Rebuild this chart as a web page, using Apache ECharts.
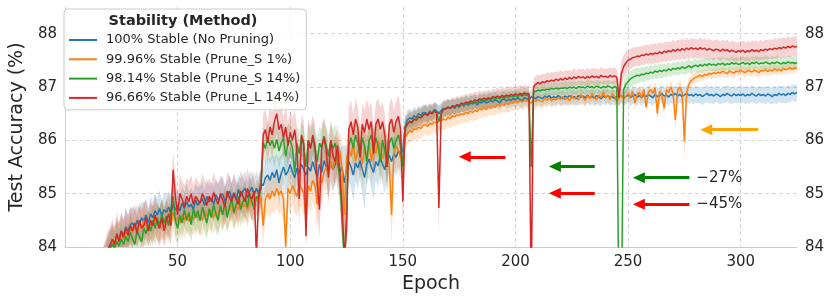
<!DOCTYPE html>
<html><head><meta charset="utf-8">
<script src="https://cdn.jsdelivr.net/npm/echarts@6/dist/echarts.min.js"></script>
<style>html,body{margin:0;padding:0;background:#fff}#c{width:831px;height:300px}</style>
</head><body><div id="c"></div>
<script>
const startEpoch = 15;
const seriesNames = ['100% Stable (No Pruning)', '99.96% Stable (Prune_S 1%)', '98.14% Stable (Prune_S 14%)', '96.66% Stable (Prune_L 14%)'];
const seriesColors = ['#1f77b4', '#ff7f0e', '#2ca02c', '#d62728'];
const bandFills = ['rgba(31,119,180,0.2)', 'rgba(255,127,14,0.2)', 'rgba(44,160,44,0.2)', 'rgba(214,39,40,0.2)'];
const legendTitle = 'Stability (Method)';

const blueMean = [
83.3,83.5,83.7,83.8,83.95,
84.05,84.12,84.02,84.2,84.15,84.3,84.22,84.38,84.3,84.42,
84.45,84.35,84.5,84.4,84.55,84.48,84.6,84.45,84.62,84.55,
84.68,84.6,84.72,84.58,84.7,84.65,84.75,84.62,84.8,84.7,
84.78,84.68,84.82,84.72,84.85,84.75,84.8,84.7,84.88,84.78,
84.85,84.9,84.78,84.95,84.85,84.92,84.8,84.98,84.88,84.95,
85.0,84.85,84.95,85.05,84.9,85.02,84.88,85.08,84.95,85.05,
85.1,84.92,85.05,85.12,84.98,85.1,85.0,85.2,85.15,85.3,
85.35,85.25,85.4,85.3,85.45,85.2,85.38,85.5,85.35,85.42,
85.55,85.4,85.3,85.48,85.38,85.55,85.45,85.35,85.5,85.42,
85.6,85.45,85.3,85.55,85.4,85.62,85.5,85.38,85.58,85.45,
85.55,85.65,85.4,85.5,85.2,85.45,85.6,85.5,85.35,85.58,
85.48,85.62,85.45,85.3,85.55,85.65,85.5,85.4,85.6,85.52,
85.68,85.55,85.45,85.65,85.72,85.6,85.75,85.68,85.8,85.75,
85.8,86.25,86.38,86.42,86.4,86.46,86.43,86.5,86.47,86.52,
86.52,86.48,86.55,86.5,86.58,86.55,86.5,86.56,86.6,86.58,
86.62,86.6,86.64,86.6,86.66,86.62,86.68,86.64,86.7,86.66,
86.7,86.68,86.72,86.66,86.72,86.7,86.74,86.7,86.72,86.75,
86.72,86.76,86.74,86.7,86.76,86.78,86.74,86.77,86.75,86.78,
86.76,86.8,86.77,86.74,86.8,86.78,86.76,86.82,86.8,86.78,
86.82,86.8,86.78,86.83,86.8,86.84,86.79,86.82,86.8,86.84,
86.81,86.78,86.83,86.8,86.84,86.8,86.82,86.78,86.84,86.81,
86.83,86.8,86.85,86.8,86.82,86.79,86.84,86.81,86.78,86.83,
86.8,86.84,86.8,86.82,86.78,86.83,86.81,86.84,86.8,86.82,
86.85,86.8,86.83,86.86,86.81,86.84,86.8,86.85,86.82,86.86,
86.83,86.8,86.86,86.82,86.84,86.88,86.83,86.85,86.81,86.86,
86.84,86.88,86.83,86.86,86.82,86.85,86.88,86.84,86.86,86.83,
86.87,86.84,86.86,86.82,86.85,86.88,86.84,86.86,86.83,86.87,
86.85,86.82,86.86,86.84,86.88,86.85,86.83,86.87,86.84,86.86,
86.84,86.87,86.83,86.86,86.84,86.88,86.85,86.83,86.87,86.84,
86.86,86.83,86.87,86.85,86.82,86.86,86.84,86.88,86.85,86.87,
86.84,86.88,86.86,86.9,86.87,86.9
];
const orangeMean = [
83.2,83.4,83.6,83.75,83.9,
84.0,84.1,84.05,84.18,84.1,84.25,84.15,84.3,84.2,84.35,
84.28,84.4,84.3,84.45,84.35,84.5,84.4,84.3,84.48,84.42,
84.55,84.45,84.38,84.5,84.42,84.58,84.48,84.4,84.65,84.5,
84.55,84.45,84.6,84.5,84.62,84.48,84.58,84.52,84.65,84.55,
84.6,84.5,84.68,84.58,84.62,84.7,84.55,84.65,84.6,84.72,
84.62,84.75,84.65,84.7,84.8,84.62,84.78,84.7,84.85,84.75,
84.8,84.7,84.88,84.78,84.85,84.92,84.8,84.95,84.4,84.9,
85.0,84.9,85.05,84.95,85.1,84.98,85.05,84.9,84.0,85.1,
85.0,85.15,85.05,84.95,85.2,85.1,85.0,84.5,85.15,85.05,
85.25,85.15,84.8,85.3,85.2,85.4,85.5,85.35,85.6,85.45,
85.7,85.55,85.8,85.5,84.6,85.65,85.85,85.7,85.95,85.6,
85.8,85.9,85.55,85.85,85.7,85.95,85.6,85.85,85.75,86.0,
85.8,85.65,85.9,85.7,85.55,84.6,85.75,85.9,85.8,85.7,
85.6,86.05,86.12,86.18,86.15,86.22,86.2,86.25,86.22,86.28,
86.3,86.26,86.32,86.3,86.35,86.32,86.38,86.36,86.4,86.38,
86.44,86.4,86.46,86.44,86.48,86.46,86.5,86.48,86.53,86.5,
86.55,86.52,86.56,86.54,86.6,86.57,86.62,86.58,86.64,86.6,
86.65,86.62,86.67,86.64,86.68,86.66,86.7,86.67,86.72,86.7,
86.73,86.7,86.75,86.72,86.74,86.76,86.72,86.7,86.75,86.73,
86.77,86.74,86.72,86.78,86.75,86.8,86.74,86.78,86.76,86.8,
86.77,86.82,86.76,86.8,86.74,86.84,86.78,86.82,86.76,86.86,
86.8,86.75,86.84,86.78,86.88,86.8,86.76,86.85,86.8,86.9,
86.8,86.85,86.76,86.88,86.82,86.72,86.8,86.85,86.78,86.82,
86.88,86.8,86.92,86.7,86.85,86.9,86.8,86.95,86.62,86.9,
86.95,86.88,86.98,86.5,86.92,86.85,86.6,86.95,86.9,87.0,
86.88,86.38,86.95,87.0,86.9,85.98,86.9,87.05,87.12,87.15,
87.18,87.2,87.22,87.2,87.24,87.22,87.26,87.24,87.27,87.25,
87.28,87.26,87.3,87.27,87.25,87.3,87.28,87.26,87.3,87.28,
87.32,87.29,87.27,87.31,87.3,87.28,87.32,87.3,87.27,87.31,
87.3,87.33,87.29,87.32,87.3,87.34,87.31,87.33,87.3,87.35,
87.32,87.34,87.36,87.33,87.36,87.35
];
const greenMean = [
83.0,83.3,83.5,83.7,83.85,
83.95,84.05,83.98,84.1,84.02,84.15,84.05,84.2,84.1,84.28,
84.15,84.05,84.3,84.2,84.1,84.35,84.25,84.42,84.3,84.5,
84.35,84.55,84.4,84.62,84.45,84.58,84.4,84.7,84.95,84.5,
84.35,84.6,84.45,84.7,84.5,84.65,84.42,84.72,84.55,84.68,
84.5,84.75,84.6,84.45,84.72,84.55,84.8,84.62,84.5,84.78,
84.6,84.85,84.55,84.75,84.9,84.65,84.8,84.95,84.7,84.85,
84.92,84.75,85.0,84.85,84.7,84.95,84.9,85.1,85.95,85.85,
86.05,85.9,86.0,85.85,86.02,85.8,85.95,86.05,85.7,85.95,
86.0,85.85,85.4,85.95,85.75,86.05,85.9,85.5,86.0,85.85,
86.05,85.8,85.6,85.95,85.85,86.08,85.9,85.7,86.0,85.85,
85.95,85.6,85.3,84.5,83.8,84.6,85.9,86.05,85.85,86.1,
85.95,85.7,86.05,85.9,85.6,86.0,86.1,85.8,86.05,85.9,
85.6,86.0,85.8,85.5,85.95,86.05,85.85,86.0,86.1,85.9,
85.5,86.22,86.3,86.35,86.32,86.4,86.38,86.44,86.42,86.48,
86.5,86.46,86.52,86.5,86.55,86.52,86.35,86.5,86.58,86.6,
86.62,86.6,86.64,86.62,86.66,86.65,86.68,86.66,86.7,86.68,
86.72,86.7,86.73,86.71,86.75,86.73,86.76,86.74,86.78,86.76,
86.79,86.77,86.8,86.78,86.81,86.79,86.82,86.8,86.83,86.81,
86.84,86.82,86.85,86.83,86.86,86.84,86.85,85.5,86.9,86.92,
86.94,86.93,86.95,86.94,86.96,86.95,86.97,86.96,86.98,86.96,
86.98,86.97,86.99,86.97,87.0,86.98,87.0,86.97,87.01,86.99,
87.0,86.98,87.02,86.99,87.01,86.98,87.02,87.0,86.98,87.01,
86.99,87.02,87.0,86.98,87.01,86.99,82.5,82.5,86.95,87.05,
87.1,87.15,87.18,87.2,87.22,87.21,87.24,87.23,87.26,87.25,
87.28,87.26,87.3,87.28,87.31,87.29,87.32,87.3,87.34,87.31,
87.35,87.33,87.36,87.34,87.38,87.35,87.37,87.4,87.36,87.39,
87.41,87.38,87.42,87.39,87.43,87.4,87.44,87.41,87.43,87.4,
87.44,87.42,87.45,87.41,87.44,87.42,87.46,87.43,87.45,87.42,
87.44,87.46,87.43,87.45,87.42,87.46,87.44,87.47,87.43,87.45,
87.44,87.47,87.45,87.43,87.46,87.44,87.47,87.45,87.43,87.46,
87.44,87.47,87.45,87.46,87.44,87.46
];
const redMean = [
83.1,83.4,83.6,83.8,83.95,
84.02,84.15,84.05,84.25,84.1,84.3,84.18,84.35,84.22,84.4,
84.3,84.45,84.25,84.5,84.35,84.4,84.55,84.3,84.5,84.4,
84.6,84.45,84.35,84.55,84.3,84.5,84.62,84.4,85.45,84.95,
84.6,85.0,84.9,84.75,84.95,84.85,85.0,84.8,84.95,84.88,
84.82,85.0,84.9,84.78,84.95,84.85,85.02,84.9,84.8,85.0,
84.88,84.75,85.05,84.92,84.85,85.0,84.9,84.8,85.05,84.95,
84.85,85.1,84.95,84.9,85.05,83.8,85.0,85.1,86.1,86.2,
85.95,86.25,86.1,86.35,86.5,86.2,86.3,86.05,86.25,85.9,
86.15,86.0,86.2,85.8,84.9,86.1,85.95,84.2,86.0,85.85,
86.1,85.9,85.2,84.7,85.9,86.05,85.8,85.3,86.0,85.7,
85.6,85.9,85.4,84.8,83.8,84.3,86.2,86.35,86.1,86.4,
86.25,85.68,86.3,86.15,86.4,86.2,86.35,85.75,86.3,86.4,
86.2,86.35,86.1,85.5,86.3,86.4,86.15,86.35,86.45,86.2,
84.85,86.25,86.3,86.36,86.34,86.4,86.38,86.44,86.42,86.47,
86.5,86.47,86.52,86.5,86.55,86.52,84.73,86.5,86.58,86.6,
86.62,86.6,86.65,86.63,86.67,86.65,86.7,86.68,86.72,86.7,
86.74,86.72,86.76,86.74,86.78,86.76,86.79,86.77,86.8,86.78,
86.82,86.8,86.83,86.81,86.84,86.82,86.85,86.83,86.86,86.84,
86.87,86.85,86.88,86.86,86.89,86.87,86.88,83.2,87.0,87.05,
87.08,87.06,87.1,87.08,87.12,87.1,87.13,87.11,87.15,87.12,
87.16,87.13,87.17,87.14,87.18,87.15,87.19,87.16,87.2,87.17,
87.19,87.16,87.2,87.17,87.21,87.18,87.2,87.17,87.22,87.19,
87.2,87.18,87.22,87.19,87.21,87.18,86.8,87.25,87.38,87.45,
87.5,87.52,87.55,87.56,87.58,87.57,87.6,87.59,87.62,87.6,
87.63,87.61,87.64,87.62,87.66,87.63,87.67,87.65,87.68,87.66,
87.7,87.67,87.71,87.68,87.72,87.69,87.73,87.7,87.74,87.71,
87.73,87.7,87.74,87.71,87.73,87.69,87.72,87.7,87.68,87.71,
87.7,87.67,87.71,87.68,87.7,87.66,87.69,87.67,87.65,87.68,
87.66,87.69,87.65,87.68,87.66,87.7,87.67,87.69,87.66,87.7,
87.68,87.71,87.69,87.72,87.7,87.73,87.71,87.74,87.72,87.75,
87.73,87.76,87.74,87.77,87.75,87.76
];

// band half-widths, in hundredths of a percentage point
const blueSpread = [
30,30,30,30,30,
28,32,30,35,30,33,28,36,30,32,
30,34,28,32,30,35,30,28,33,30,
32,30,35,28,30,33,30,35,30,32,
30,28,33,30,35,28,30,32,30,34,
30,32,28,35,30,30,33,28,32,30,
35,30,28,32,30,34,30,28,33,30,
32,30,35,28,30,33,30,35,32,30,
35,40,32,38,30,45,35,30,40,35,
32,38,45,30,40,35,42,38,30,40,
35,42,50,32,40,38,30,45,35,40,
38,32,45,40,70,45,35,40,50,35,
40,32,45,60,38,35,42,50,35,40,
30,38,45,35,30,40,32,35,30,35,
40,20,18,17,16,17,16,15,16,15,
15,16,15,14,15,14,15,14,15,14,
14,15,14,14,15,14,14,15,14,14,
14,14,15,14,14,15,14,14,15,14,
14,15,14,14,15,14,14,15,14,14,
15,14,14,15,14,14,15,14,14,15,
14,15,14,14,15,14,14,15,14,14,
15,14,14,15,14,14,15,14,14,15,
14,15,14,14,15,14,14,15,14,14,
15,14,14,15,14,14,15,14,15,15,
15,16,15,15,16,15,16,15,15,16,
15,16,15,16,15,16,15,16,15,16,
16,15,16,15,16,16,15,16,15,16,
16,15,16,16,15,16,15,16,16,15,
16,15,16,15,16,16,15,16,15,16,
16,15,16,16,15,16,15,16,16,15,
16,16,15,16,15,16,16,15,16,16,
15,16,16,15,16,16
];
const orangeSpread = [
30,30,30,30,30,
32,28,35,30,33,30,36,28,32,30,
34,30,28,33,30,35,28,32,30,34,
30,33,28,35,30,32,28,34,30,33,
28,32,30,35,30,28,33,30,32,30,
34,30,28,32,30,35,30,28,33,30,
32,30,35,28,30,33,30,35,30,32,
30,34,30,28,33,30,35,30,45,35,
38,35,40,32,38,35,40,45,60,38,
40,35,42,38,45,35,40,55,38,42,
40,45,50,38,42,35,40,45,38,42,
40,45,38,42,60,45,40,38,42,40,
38,42,45,40,38,42,45,38,40,42,
40,45,38,42,48,60,40,38,42,40,
35,22,20,21,20,20,19,20,19,20,
19,20,19,19,20,19,19,18,19,18,
18,19,18,18,18,17,18,17,18,17,
17,17,18,17,16,17,16,17,16,16,
16,16,15,16,15,15,16,15,15,15,
15,14,15,14,14,15,14,15,14,14,
14,13,14,13,14,13,13,14,13,13,
13,13,12,13,12,13,12,13,12,12,
12,13,12,12,12,13,12,12,12,12,
12,12,12,12,12,12,12,12,12,12,
12,12,12,14,12,12,12,12,15,12,
12,12,12,16,12,12,15,12,12,12,
12,18,12,12,12,40,12,12,11,11,
10,10,10,9,9,9,9,9,9,9,
9,9,9,9,9,9,9,9,9,9,
9,9,9,9,9,9,9,9,9,9,
9,9,9,9,9,9,9,9,9,9,
9,9,9,9,9,9
];
const greenSpread = [
30,30,30,30,30,
30,33,28,35,30,32,28,34,30,33,
35,30,32,28,34,30,33,28,32,30,
34,30,33,28,32,30,35,30,35,32,
35,30,33,30,28,34,35,30,33,30,
32,30,35,30,28,33,30,35,30,32,
30,34,30,28,33,30,35,30,32,30,
33,30,28,35,30,32,30,35,30,32,
30,35,32,38,30,35,32,30,45,35,
32,35,50,32,40,30,35,45,32,35,
30,38,45,32,35,30,35,40,32,35,
35,45,55,60,70,60,35,30,35,30,
32,40,30,35,45,32,30,38,32,35,
45,32,38,45,32,30,35,30,32,35,
35,18,17,17,16,16,15,16,15,15,
15,15,14,15,14,15,30,15,14,14,
14,14,13,14,13,14,13,13,14,13,
13,14,13,13,14,13,13,14,13,13,
13,13,14,13,13,13,14,13,13,13,
13,13,13,14,13,13,13,40,14,13,
13,12,13,12,13,12,12,13,12,12,
12,12,13,12,12,12,13,12,12,12,
12,12,12,13,12,12,12,12,13,12,
12,12,12,12,12,12,50,50,18,17,
16,16,15,15,15,14,14,14,14,13,
13,13,13,13,13,13,12,13,12,12,
12,12,13,12,12,12,12,13,12,12,
12,12,12,13,12,12,12,12,13,12,
12,13,12,12,12,12,13,12,12,12,
12,12,12,13,12,12,12,12,13,12,
12,13,12,12,12,12,13,12,12,12,
12,12,13,12,12,12
];
const redSpread = [
35,35,35,35,35,
35,38,33,40,35,38,32,36,38,35,
40,35,38,33,36,40,35,38,35,37,
38,35,40,36,38,35,40,36,35,38,
36,38,35,40,35,38,36,33,38,35,
36,38,35,40,35,33,38,35,37,35,
38,35,36,40,35,38,35,36,38,35,
36,38,35,40,38,50,36,35,40,38,
40,38,42,40,38,40,42,38,40,45,
40,42,38,45,55,40,42,60,40,42,
38,40,50,55,40,38,42,50,40,42,
45,40,48,55,70,60,42,40,38,40,
38,50,40,42,38,40,38,48,40,38,
42,38,40,50,38,40,42,38,40,42,
45,20,19,19,18,18,18,17,18,17,
17,17,17,17,16,17,47,17,16,16,
16,16,16,16,16,16,15,16,15,16,
15,16,15,15,16,15,15,16,15,15,
15,15,16,15,15,15,16,15,15,15,
15,15,16,15,15,15,15,100,16,16,
15,16,15,15,16,15,15,16,15,15,
16,15,15,16,15,15,16,15,15,16,
15,15,16,15,15,16,15,15,16,15,
15,16,15,15,16,15,30,25,22,20,
20,19,19,18,18,18,18,18,18,18,
18,19,18,18,19,18,18,19,18,18,
19,18,18,19,18,18,19,18,18,19,
18,18,19,18,18,19,18,18,19,18,
18,19,18,18,19,18,18,19,18,18,
19,18,18,19,18,18,19,18,18,19,
18,18,19,18,18,19,18,18,19,18,
18,19,18,18,19,18
];

// annotation arrows: tail epoch, head epoch, accuracy, colour, text
const arrowEpochFrom = [195.5, 235.2, 235.2, 277.2, 277.2, 307.8];
const arrowEpochTo   = [177.5, 217.5, 217.5, 254.8, 254.8, 284.7];
const arrowAcc       = [85.69, 85.51, 85.01, 85.30, 84.80, 86.20];
const arrowColor     = ['#ff0000', '#008000', '#ff0000', '#008000', '#ff0000', '#ffa500'];
const arrowText      = ['', '', '', '\u221227%', '\u221245%', ''];

const xMin = 0, xMax = 325, xStep = 50;
const yMin = 84, yMax = 88.5, yStep = 1;

const means = [blueMean, orangeMean, greenMean, redMean];
const spreads = [blueSpread, orangeSpread, greenSpread, redSpread];
const FONT = "'DejaVu Sans', sans-serif";
const TXT = '#262626';
const clampY = v => Math.max(yMin, Math.min(yMax, v));

const series = [];
means.forEach((m, k) => {
  const sp = spreads[k];
  series.push({
    type: 'custom', name: 'band' + k, silent: true, z: 1, clip: true,
    data: [[startEpoch, yMin]],
    renderItem: (params, api) => {
      const pts = [];
      for (let i = 0; i < m.length; i++) pts.push(api.coord([startEpoch + i, clampY(m[i] + sp[i] / 100)]));
      for (let i = m.length - 1; i >= 0; i--) pts.push(api.coord([startEpoch + i, clampY(m[i] - sp[i] / 100)]));
      return {type: 'polygon', shape: {points: pts}, style: {fill: bandFills[k], stroke: null}};
    }
  });
});
means.forEach((m, k) => {
  series.push({type: 'line', name: seriesNames[k], data: m.map((v, i) => [startEpoch + i, v]),
    symbol: 'none', clip: true, z: 3,
    lineStyle: {width: 1.5, color: seriesColors[k]}, itemStyle: {color: seriesColors[k]}});
});
series.push({
  type: 'line', name: 'annotations', data: [], z: 5,
  markLine: {
    silent: true, animation: false,
    symbol: ['none', 'triangle'], symbolSize: [11, 12],
    data: arrowAcc.map((y, i) => [
      {coord: [arrowEpochFrom[i], y],
       lineStyle: {color: arrowColor[i], width: 3, type: 'solid'},
       itemStyle: {color: arrowColor[i]},
       label: {show: !!arrowText[i], formatter: arrowText[i], position: 'start', distance: 7,
               color: TXT, fontSize: 15, fontFamily: FONT}},
      {coord: [arrowEpochTo[i], y]}
    ])
  }
});

const chart = echarts.init(document.getElementById('c'), null, {renderer: 'canvas'});
chart.setOption({
  animation: false,
  backgroundColor: '#ffffff',
  grid: {left: 54, right: 34, top: 7, bottom: 53, containLabel: false},
  xAxis: {
    type: 'value', min: xMin, max: xMax, interval: xStep,
    name: 'Epoch', nameLocation: 'middle', nameGap: 24,
    nameTextStyle: {fontSize: 19, color: TXT, fontFamily: FONT},
    axisLine: {show: true, lineStyle: {color: '#cccccc', width: 1}},
    axisTick: {show: false},
    axisLabel: {fontSize: 15, color: TXT, fontFamily: FONT, margin: 8, showMinLabel: false, showMaxLabel: false},
    splitLine: {show: true, showMinLine: false, showMaxLine: false, lineStyle: {color: '#d4d4d4', type: [4, 3], width: 1}}
  },
  yAxis: [{
    type: 'value', min: yMin, max: yMax, interval: yStep, position: 'left',
    name: 'Test Accuracy (%)', nameLocation: 'middle', nameGap: 30, nameRotate: 90,
    nameTextStyle: {fontSize: 19, color: TXT, fontFamily: FONT},
    axisLine: {show: true, lineStyle: {color: '#cccccc', width: 1}},
    axisTick: {show: false},
    axisLabel: {fontSize: 15, color: TXT, fontFamily: FONT, margin: 8, showMaxLabel: false},
    splitLine: {show: true, showMinLine: false, showMaxLine: false, lineStyle: {color: '#d4d4d4', type: [4, 3], width: 1}}
  }, {
    type: 'value', min: yMin, max: yMax, interval: yStep, position: 'right',
    axisLine: {show: false}, axisTick: {show: false},
    axisLabel: {fontSize: 15, color: TXT, fontFamily: FONT, margin: 8, showMaxLabel: false},
    splitLine: {show: false}
  }],
  legend: {
    data: seriesNames, orient: 'vertical', left: 64, top: 9,
    padding: [23, 6, 4, 5], itemGap: 3.3, itemWidth: 28, itemHeight: 2, icon: 'rect',
    backgroundColor: 'rgba(255,255,255,0.85)', borderColor: '#cccccc', borderWidth: 1, borderRadius: 4,
    textStyle: {fontSize: 13, color: TXT, fontFamily: FONT, lineHeight: 16, padding: [0, 0, 0, 4]},
    z: 10
  },
  graphic: [{
    type: 'text', x: 183, y: 21, z: 100,
    style: {text: legendTitle, textAlign: 'center', textVerticalAlign: 'middle',
            font: "bold 14.5px 'DejaVu Sans', sans-serif", fill: TXT}
  }],
  series: series
});
</script>
</body></html>
